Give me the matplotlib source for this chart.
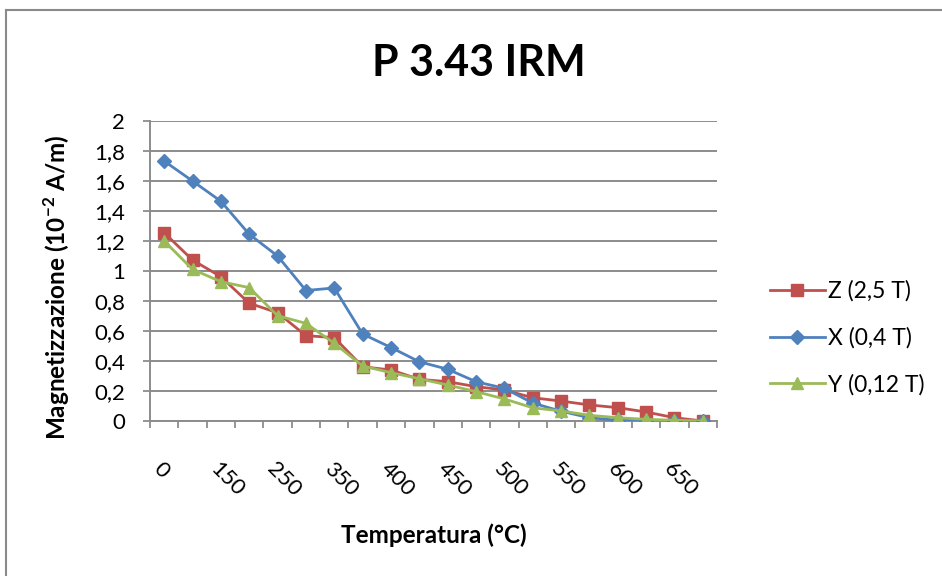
import matplotlib
matplotlib.use("Agg")
import matplotlib.pyplot as plt
from matplotlib.lines import Line2D

plt.rcParams["font.family"] = ["Lato", "DejaVu Sans"]
plt.rcParams["mathtext.fontset"] = "custom"
plt.rcParams["mathtext.rm"] = "Lato"
plt.rcParams["mathtext.bf"] = "Lato:bold"

# Temperature steps (°C); Excel shows every other label
temps = [0, 100, 150, 200, 250, 300, 350, 375, 400, 425,
         450, 475, 500, 525, 550, 575, 600, 625, 650, 675]

z_25T = [1.255, 1.073, 0.962, 0.785, 0.722, 0.569, 0.556, 0.362, 0.340, 0.278,
         0.262, 0.229, 0.207, 0.155, 0.133, 0.107, 0.089, 0.060, 0.022, 0.0]
x_04T = [1.733, 1.600, 1.465, 1.245, 1.100, 0.870, 0.887, 0.580, 0.490, 0.395,
         0.345, 0.262, 0.218, 0.120, 0.065, 0.022, 0.005, 0.003, 0.002, 0.0]
y_012T = [1.200, 1.011, 0.929, 0.889, 0.702, 0.651, 0.518, 0.367, 0.322, 0.282,
          0.240, 0.196, 0.147, 0.088, 0.067, 0.038, 0.022, 0.011, 0.005, 0.0]

RED = "#C0504D"
BLUE = "#4F81BD"
GREEN = "#9BBB59"
GRID = "#8c8c8c"

fig = plt.figure(figsize=(9.42, 5.76), dpi=100)
ax = fig.add_axes([150 / 942, 1 - 421 / 576, 567 / 942, 300 / 576])

idx = list(range(len(temps)))
ax.plot(idx, z_25T, color=RED, lw=2.0, marker="s", ms=8.5, label="Z (2,5 T)", zorder=3)
ax.plot(idx, x_04T, color=BLUE, lw=2.0, marker="D", ms=7, label="X (0,4 T)", zorder=4)
ax.plot(idx, y_012T, color=GREEN, lw=2.0, marker="^", ms=9, label="Y (0,12 T)", zorder=5)

ax.set_xlim(-0.5, len(temps) - 0.5)
ax.set_ylim(0, 2)
ax.set_yticks([i * 0.2 for i in range(11)])
ax.set_yticklabels(["0", "0,2", "0,4", "0,6", "0,8", "1", "1,2", "1,4", "1,6", "1,8", "2"])
ax.yaxis.grid(True, color=GRID, lw=1.4)
ax.set_axisbelow(True)

ax.set_xticks(idx[::2])
ax.set_xticklabels([str(t) for t in temps[::2]], rotation=-45, ha="left", va="top",
                   rotation_mode="anchor")
ax.set_xticks([i - 0.5 for i in range(len(temps) + 1)], minor=True)
ax.tick_params(axis="x", which="major", length=0, pad=27, labelsize=16)
ax.tick_params(axis="x", which="minor", length=5, color=GRID, width=1.3, direction="out")
ax.tick_params(axis="y", length=5, color=GRID, width=1.3, pad=13, labelsize=16)

for s in ["top", "right"]:
    ax.spines[s].set_visible(False)
for s in ["left", "bottom"]:
    ax.spines[s].set_color(GRID)
    ax.spines[s].set_linewidth(1.4)

fig.text(479 / 942, 1 - 63 / 576, "P 3.43 IRM", ha="center", va="center",
         fontsize=31, fontweight="bold")
fig.text(434 / 942, 1 - 535 / 576, "Temperatura (°C)", ha="center", va="center",
         fontsize=17.5, fontweight="bold")
fig.text(57 / 942, 1 - 287 / 576, r"Magnetizzazione (10$^{\mathbf{-2}}$ A/m)",
         ha="center", va="center", rotation=90, fontsize=17.5, fontweight="bold")

fig.legend(loc="center left", bbox_to_anchor=(749 / 942, 1 - 338 / 576), frameon=False,
           fontsize=16.5, handlelength=2.4, handletextpad=0.15, labelspacing=1.1)

# outer chart border (only top and left edges visible)
fig.add_artist(Line2D([6 / 942, 1], [1 - 10 / 576] * 2, color="#8a8a8a", lw=1.5))
fig.add_artist(Line2D([6 / 942] * 2, [0, 1 - 10 / 576], color="#8a8a8a", lw=1.5))

fig.savefig("out.png", dpi=100)
